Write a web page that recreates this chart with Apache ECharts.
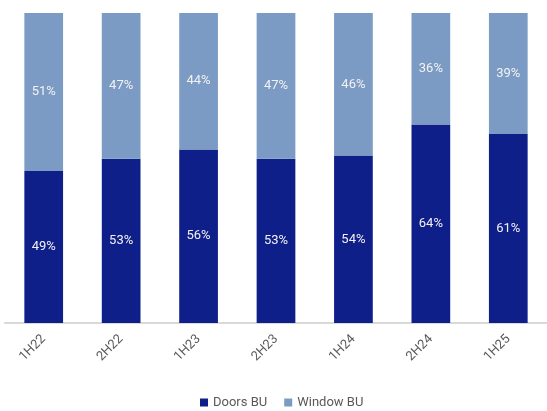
<!DOCTYPE html>
<html>
<head>
<meta charset="utf-8">
<script src="https://cdn.jsdelivr.net/npm/echarts@6/dist/echarts.min.js"></script>
<style>
  html, body { margin: 0; padding: 0; background: #fff; }
  #chart { width: 547px; height: 411px; }
</style>
</head>
<body>
<div id="chart"></div>
<script>
// half-year periods
var categories = ['1H22', '2H22', '1H23', '2H23', '1H24', '2H24', '1H25'];
// share of revenue, %
var doors = [49, 53, 56, 53, 54, 64, 61];
var windows = [51, 47, 44, 47, 46, 36, 39];

var chart = echarts.init(document.getElementById('chart'));

var label = {
    show: true,
    position: 'inside',
    color: '#f2f2f2',
    fontSize: 13,
    fontFamily: 'Roboto',
    formatter: '{c}%'
};

chart.setOption({
    animation: false,
    textStyle: { fontFamily: 'Roboto' },
    legend: {
        data: ['Doors BU', 'Window BU'],
        bottom: 2,
        left: 200,
        padding: 0,
        icon: 'rect',
        itemWidth: 8,
        itemHeight: 8,
        itemGap: 17,
        textStyle: { color: '#595959', fontSize: 13 }
    },
    grid: {
        left: 5,
        right: -5,
        top: 13,
        bottom: 88
    },
    xAxis: {
        type: 'category',
        data: categories,
        axisLine: { lineStyle: { color: '#d9d9d9', width: 2 } },
        axisTick: { show: false },
        axisLabel: {
            rotate: 45,
            color: '#595959',
            fontSize: 13,
            margin: 14
        }
    },
    yAxis: {
        type: 'value',
        min: 0,
        max: 100,
        show: false
    },
    series: [
        {
            name: 'Doors BU',
            type: 'bar',
            stack: 'share',
            barWidth: '50%',
            itemStyle: { color: '#0e1f8a' },
            label: label,
            data: doors
        },
        {
            name: 'Window BU',
            type: 'bar',
            stack: 'share',
            barWidth: '50%',
            itemStyle: { color: '#7b9bc4' },
            label: label,
            data: windows
        }
    ]
});
</script>
</body>
</html>
